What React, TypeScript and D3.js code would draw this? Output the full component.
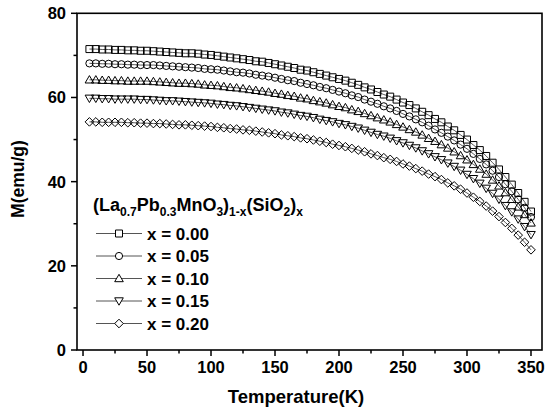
import React from "react";
import * as d3 from "d3";

const temperatures: number[] = [
  5, 10, 15, 20, 25, 30, 35, 40, 45, 50, 55, 60, 65, 70, 75, 80, 85, 90, 95, 100,
  105, 110, 115, 120, 125, 130, 135, 140, 145, 150, 155, 160, 165, 170, 175, 180, 185, 190, 195, 200,
  205, 210, 215, 220, 225, 230, 235, 240, 245, 250, 255, 260, 265, 270, 275, 280, 285, 290, 295, 300,
  305, 310, 315, 320, 325, 330, 335, 340, 345, 350,
];

const m000: number[] = [
  71.5, 71.5, 71.4, 71.4, 71.3, 71.3, 71.2, 71.2, 71.1, 71.1, 71.0, 70.9, 70.8, 70.7, 70.6, 70.5, 70.5, 70.4, 70.2, 70.1,
  69.9, 69.7, 69.5, 69.3, 69.1, 68.9, 68.6, 68.5, 68.2, 67.9, 67.6, 67.3, 67.0, 66.6, 66.4, 66.0, 65.6, 65.2, 64.8, 64.4,
  64.0, 63.5, 63.0, 62.4, 61.9, 61.3, 60.7, 60.2, 59.5, 58.8, 58.2, 57.4, 56.6, 55.8, 54.9, 54.1, 53.1, 52.2, 51.1, 50.0,
  48.7, 47.5, 46.1, 44.5, 42.9, 41.1, 39.3, 37.3, 35.2, 32.9,
];
const m005: number[] = [
  68.1, 68.1, 68.0, 68.0, 67.9, 67.9, 67.8, 67.8, 67.7, 67.7, 67.7, 67.6, 67.5, 67.4, 67.3, 67.2, 67.1, 67.0, 66.8, 66.7,
  66.6, 66.4, 66.2, 66.0, 65.9, 65.7, 65.4, 65.2, 65.0, 64.7, 64.4, 64.1, 63.9, 63.5, 63.2, 62.9, 62.5, 62.2, 61.8, 61.4,
  61.0, 60.5, 60.1, 59.5, 59.0, 58.5, 57.9, 57.4, 56.8, 56.1, 55.5, 54.8, 54.1, 53.3, 52.4, 51.6, 50.7, 49.8, 48.8, 47.8,
  46.6, 45.4, 44.1, 42.6, 41.1, 39.4, 37.7, 35.8, 33.8, 31.6,
];
const m010: number[] = [
  64.2, 64.2, 64.1, 64.1, 64.0, 64.0, 63.9, 63.9, 63.9, 63.9, 63.8, 63.7, 63.6, 63.5, 63.4, 63.4, 63.3, 63.2, 63.0, 62.9,
  62.8, 62.6, 62.4, 62.3, 62.1, 61.9, 61.7, 61.5, 61.3, 61.0, 60.8, 60.5, 60.3, 59.9, 59.7, 59.3, 59.0, 58.7, 58.3, 57.9,
  57.6, 57.1, 56.7, 56.2, 55.7, 55.2, 54.7, 54.2, 53.6, 53.0, 52.4, 51.8, 51.1, 50.3, 49.6, 48.8, 48.0, 47.1, 46.2, 45.2,
  44.1, 43.0, 41.8, 40.4, 39.0, 37.4, 35.8, 34.0, 32.2, 30.2,
];
const m015: number[] = [
  59.8, 59.8, 59.7, 59.7, 59.6, 59.6, 59.6, 59.6, 59.5, 59.5, 59.4, 59.3, 59.2, 59.2, 59.1, 59.0, 58.9, 58.8, 58.7, 58.6,
  58.4, 58.3, 58.1, 58.0, 57.8, 57.6, 57.4, 57.2, 57.0, 56.8, 56.5, 56.3, 56.0, 55.7, 55.5, 55.2, 54.8, 54.5, 54.2, 53.8,
  53.5, 53.1, 52.7, 52.2, 51.7, 51.2, 50.8, 50.3, 49.7, 49.2, 48.6, 48.0, 47.3, 46.6, 45.9, 45.2, 44.4, 43.6, 42.7, 41.7,
  40.7, 39.6, 38.4, 37.2, 35.8, 34.3, 32.8, 31.1, 29.3, 27.4,
];
const m020: number[] = [
  54.2, 54.2, 54.1, 54.1, 54.1, 54.1, 54.0, 54.0, 53.9, 53.9, 53.8, 53.8, 53.7, 53.6, 53.5, 53.5, 53.4, 53.3, 53.2, 53.1,
  52.9, 52.8, 52.6, 52.5, 52.3, 52.2, 52.0, 51.8, 51.6, 51.4, 51.1, 50.9, 50.7, 50.4, 50.2, 49.9, 49.6, 49.3, 48.9, 48.6,
  48.3, 47.9, 47.5, 47.1, 46.6, 46.2, 45.7, 45.3, 44.8, 44.2, 43.7, 43.1, 42.5, 41.8, 41.2, 40.5, 39.7, 39.0, 38.2, 37.3,
  36.3, 35.3, 34.2, 33.0, 31.7, 30.3, 28.9, 27.3, 25.6, 23.8,
];

const seriesLabels: string[] = ["x = 0.00", "x = 0.05", "x = 0.10", "x = 0.15", "x = 0.20"];
const seriesShapes: string[] = ["square", "circle", "triangle", "triangleDown", "diamond"];
const seriesValues: number[][] = [m000, m005, m010, m015, m020];

const xTicks: number[] = [0, 50, 100, 150, 200, 250, 300, 350];
const xMinorTicks: number[] = [25, 75, 125, 175, 225, 275, 325];
const yTicks: number[] = [0, 20, 40, 60, 80];
const yMinorTicks: number[] = [10, 30, 50, 70];

const FONT = "'Liberation Sans', Arial, Helvetica, sans-serif";

function markerPath(shape: string, cx: number, cy: number): string {
  switch (shape) {
    case "square":
      return `M${cx - 3.5},${cy - 3.5}h7v7h-7Z`;
    case "circle":
      return `M${cx - 3.6},${cy}a3.6,3.6 0 1,0 7.2,0a3.6,3.6 0 1,0 -7.2,0Z`;
    case "triangle":
      return `M${cx},${cy - 4.2}L${cx + 4.3},${cy + 3.2}L${cx - 4.3},${cy + 3.2}Z`;
    case "triangleDown":
      return `M${cx},${cy + 4.2}L${cx + 4.3},${cy - 3.2}L${cx - 4.3},${cy - 3.2}Z`;
    default:
      return `M${cx},${cy - 4.3}L${cx + 4.3},${cy}L${cx},${cy + 4.3}L${cx - 4.3},${cy}Z`;
  }
}

export default function App() {
  const left = 77, right = 542, top = 13.3, bottom = 350;
  const x = d3.scaleLinear().domain([-4.7, 358.6]).range([left, right]);
  const y = d3.scaleLinear().domain([0, 80]).range([bottom, top]);
  const line = d3
    .line<number>()
    .x((_, i) => x(temperatures[i]))
    .y((d) => y(d));

  const legendX0 = 96, legendX1 = 142, legendTextX = 147;
  const legendY = [233.5, 256, 278.5, 301, 323.5];

  return (
    <svg
      width={546}
      height={407}
      style={{ position: "absolute", left: 0, top: 0, background: "#fff" }}
      fontFamily={FONT}
    >
      <rect x={0} y={0} width={546} height={407} fill="#fff" />
      {seriesValues.map((vals, si) => (
        <g key={si}>
          <path d={line(vals) || ""} fill="none" stroke="#444" strokeWidth={0.9} />
          {vals.map((v, i) => (
            <path
              key={i}
              d={markerPath(seriesShapes[si], x(temperatures[i]), y(v))}
              fill="none"
              stroke="#000"
              strokeWidth={1}
            />
          ))}
        </g>
      ))}

      {/* frame */}
      <rect x={left} y={top} width={right - left} height={bottom - top} fill="none" stroke="#000" strokeWidth={1.6} />

      {/* x axis ticks */}
      {xTicks.map((t) => (
        <g key={"xt" + t}>
          <line x1={x(t)} x2={x(t)} y1={bottom} y2={bottom + 6} stroke="#000" strokeWidth={1.5} />
          <text x={x(t)} y={373} textAnchor="middle" fontSize={16.5} fontWeight="bold">
            {t}
          </text>
        </g>
      ))}
      {xMinorTicks.map((t) => (
        <line key={"xm" + t} x1={x(t)} x2={x(t)} y1={bottom} y2={bottom + 3.5} stroke="#000" strokeWidth={1.5} />
      ))}

      {/* y axis ticks */}
      {yTicks.map((t) => (
        <g key={"yt" + t}>
          <line x1={left - 6} x2={left} y1={y(t)} y2={y(t)} stroke="#000" strokeWidth={1.5} />
          <text x={66} y={y(t) + 6} textAnchor="end" fontSize={16.5} fontWeight="bold">
            {t}
          </text>
        </g>
      ))}
      {yMinorTicks.map((t) => (
        <line key={"ym" + t} x1={left - 3.5} x2={left} y1={y(t)} y2={y(t)} stroke="#000" strokeWidth={1.5} />
      ))}

      {/* axis titles */}
      <text x={296} y={403} textAnchor="middle" fontSize={18.5} fontWeight="bold">
        Temperature(K)
      </text>
      <text
        transform={`translate(24,${179}) rotate(-90)`}
        textAnchor="middle"
        fontSize={17.5}
        fontWeight="bold"
      >
        M(emu/g)
      </text>

      {/* legend title */}
      <text x={93} y={211} fontSize={18} fontWeight="bold">
        <tspan>(La</tspan>
        <tspan fontSize={12} dy={5}>0.7</tspan>
        <tspan dy={-5}>Pb</tspan>
        <tspan fontSize={12} dy={5}>0.3</tspan>
        <tspan dy={-5}>MnO</tspan>
        <tspan fontSize={12} dy={5}>3</tspan>
        <tspan dy={-5}>)</tspan>
        <tspan fontSize={12} dy={5}>1-x</tspan>
        <tspan dy={-5}>(SiO</tspan>
        <tspan fontSize={12} dy={5}>2</tspan>
        <tspan dy={-5}>)</tspan>
        <tspan fontSize={12} dy={5}>x</tspan>
      </text>

      {/* legend entries */}
      {seriesLabels.map((lab, i) => (
        <g key={"lg" + i}>
          <line x1={legendX0} x2={legendX1} y1={legendY[i]} y2={legendY[i]} stroke="#555" strokeWidth={1} />
          <path
            d={markerPath(seriesShapes[i], (legendX0 + legendX1) / 2, legendY[i])}
            fill="#fff"
            stroke="#000"
            strokeWidth={1}
          />
          <text x={legendTextX} y={legendY[i] + 6} fontSize={17} fontWeight="bold">
            {lab}
          </text>
        </g>
      ))}
    </svg>
  );
}
